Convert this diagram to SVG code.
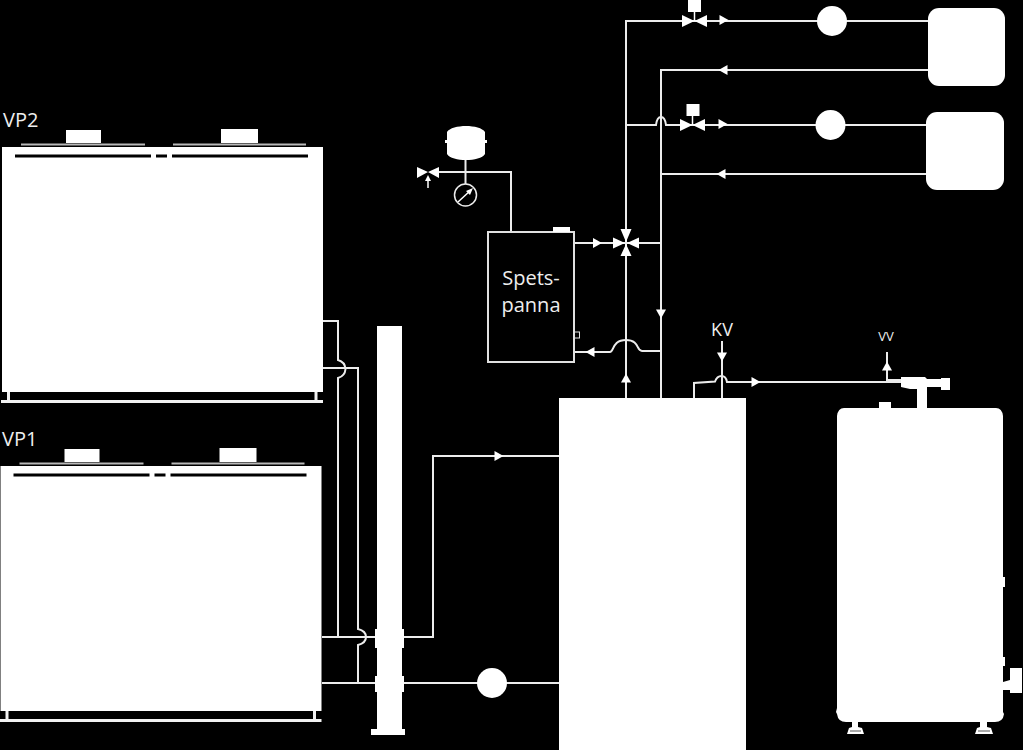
<svg xmlns="http://www.w3.org/2000/svg" width="1023" height="750" viewBox="0 0 1023 750">
<style>
.p{fill:none;stroke:#ececec;stroke-width:2}
.w{fill:#fff}
.t{fill:#eeeeee;font-family:"Open Sans","Noto Sans",sans-serif;font-size:20px}
.g{stroke:#b9b9b9;stroke-width:2;fill:none}
.k{stroke:#000;stroke-width:3;fill:none}
</style>
<defs>
<path id="ar" class="w" d="M-4.500-5L4.500 0L-4.500 5Z"/>
<g id="valve"><path class="w" d="M-12.500-6L0 0L-12.500 6ZM12.500-6L0 0L12.500 6Z"/></g>
<g id="hp">
<rect class="w" x="2" y="147" width="321" height="245"/>
<path class="g" d="M21 144.500H145M173 144.500H306"/>
<rect class="w" x="66" y="130" width="35" height="13"/>
<rect class="w" x="221" y="129" width="37" height="14"/>
<path class="k" d="M15 156H151M156 156H167M172 156H308"/>
<path d="M1 401.500H323M8.500 392V400M316 392V400" fill="none" stroke="#f2f2f2" stroke-width="3"/>
</g>
</defs>
<rect width="1023" height="750" fill="#000"/>
<g id="connectors">
<path class="p" d="M323 321H338V360Q345 362 345.500 369Q345 376 338 378V637"/>
<path class="p" d="M323 368H358V629Q366 631 366 637Q366 643 358 645V683"/>
<path class="p" d="M322 637H433V456H559"/>
<path class="p" d="M322 683H559"/>
<path class="p" d="M626 398V21H928"/>
<path class="p" d="M661 398V70H928"/>
<path class="p" d="M626 125H656Q657 117 661 117Q665 117 666 125H927"/>
<path class="p" d="M661 174H927"/>
<path class="p" d="M574 243H661"/>
<path class="p" d="M574 352H610C614 352 612 340 626 340C640 340 636 351 642 351H661"/>
<path class="p" d="M722 341V398"/>
<path class="p" d="M694 398V383L715 381.500Q717 376 721.500 376Q726 376 727 382H902"/>
<path class="p" d="M887 352V380H903"/>
<path class="p" d="M465.500 160V184M430 172H511V232"/>
<use href="#ar" x="499" y="456"/>
<use href="#ar" x="597.500" y="243"/>
<use href="#ar" transform="translate(590 352) rotate(180)"/>
<use href="#ar" transform="translate(661 314) rotate(90)"/>
<use href="#ar" transform="translate(626 378) rotate(-90)"/>
<use href="#ar" x="724" y="20"/>
<use href="#ar" x="723" y="124"/>
<use href="#ar" transform="translate(723 70) rotate(180)"/>
<use href="#ar" transform="translate(721 174) rotate(180)"/>
<use href="#ar" transform="translate(722 357) rotate(90)"/>
<use href="#ar" x="756" y="382"/>
<use href="#ar" transform="translate(887 366) rotate(-90)"/>
</g>
<g id="vp2"><use href="#hp"/><text class="t" x="3" y="127">VP2</text></g>
<g id="vp1"><use href="#hp" x="-1.500" y="319"/><text class="t" x="2" y="446">VP1</text></g>
<g id="column">
<rect class="w" x="377" y="326" width="25" height="404"/>
<rect class="w" x="375" y="629" width="29" height="19"/>
<rect class="w" x="375" y="676" width="29" height="16"/>
<rect class="w" x="371" y="729" width="34" height="6"/>
</g>
<g id="pump3"><circle class="w" cx="492" cy="683" r="15"/></g>
<g id="buffer"><rect class="w" x="559" y="398" width="187" height="352"/></g>
<g id="boiler">
<rect x="488" y="232" width="86" height="130" fill="#000" stroke="#e0e0e0" stroke-width="2"/>
<rect class="w" x="553" y="227" width="17" height="5"/>
<rect x="574.500" y="332" width="5" height="6" fill="none" stroke="#e0e0e0"/>
<text class="t" text-anchor="middle" x="531" y="285">Spets-</text>
<text class="t" text-anchor="middle" x="531" y="312">panna</text>
</g>
<g id="expansion">
<path class="w" d="M447 132C452 124 480 124 485 132V140H487V143H485V154C480 162 452 162 447 154V143H445V140H447Z"/>
<circle cx="465.500" cy="195" r="11" fill="#000" stroke="#ececec" stroke-width="1.500"/>
<path d="M458 202L471 190" stroke="#fff" stroke-width="1.500"/><path class="w" d="M473 188L470 195L466 191Z"/>
</g>
<g id="safety-valve">
<path class="w" d="M417 167L428 172L417 178ZM439 167L428 172L439 178Z"/>
<path d="M428 188V180" stroke="#fff" stroke-width="1.500"/><path class="w" d="M428 175L431 181H425Z"/>
</g>
<g id="mix-valve">
<path class="w" d="M626 242L620.500 229H631.500ZM626 244L620.500 256H631.500ZM625 243L613 237.500V248.500ZM627 243L639 237.500V248.500Z"/>
</g>
<g id="valve1"><use href="#valve" x="694.500" y="21"/><rect class="w" x="688" y="0" width="13" height="12"/><path d="M694.500 12V21" stroke="#fff" stroke-width="1.500"/></g>
<g id="valve2"><use href="#valve" x="692.500" y="125"/><rect class="w" x="686.500" y="104" width="13" height="12"/><path d="M692.500 116V125" stroke="#fff" stroke-width="1.500"/></g>
<g id="pump1"><circle class="w" cx="832" cy="21" r="15"/></g>
<g id="pump2"><circle class="w" cx="830.500" cy="125" r="15"/></g>
<g id="rad1"><rect class="w" x="928" y="8" width="77" height="78" rx="11"/></g>
<g id="rad2"><rect class="w" x="926" y="112" width="78" height="78" rx="11"/></g>
<g id="kv"><text class="t" text-anchor="middle" x="722" y="336" style="font-size:18px">KV</text></g>
<g id="vv"><text class="t" text-anchor="middle" x="886" y="341" style="font-size:13px">VV</text></g>
<g id="fitting"><path class="w" d="M901 377H925L927 379H941V378H950V390H941V387H927V408H917V389H910L901 387Z"/></g>
<g id="water-heater">
<path class="w" d="M844 408H879V402H891V408H996Q1002 408 1003 416V577H1005V587H1003V657H1005V666H1003V712L1004 714Q1003 722 995 722H846Q838 722 837 714L836 712L837 708V416Q838 408 844 408Z"/>
<path class="w" d="M1003 682L1010 680V668H1022V693H1010V690L1003 690Z"/>
<path class="w" d="M852 722H858V727L862 728L864 734H847L849 728L852 727ZM980 722H987V727L991 728L993 734H975L977 728L980 727Z"/>
<path d="M850 731H861M978 731H990" stroke="#555" stroke-width="1" fill="none"/>
</g>
</svg>
